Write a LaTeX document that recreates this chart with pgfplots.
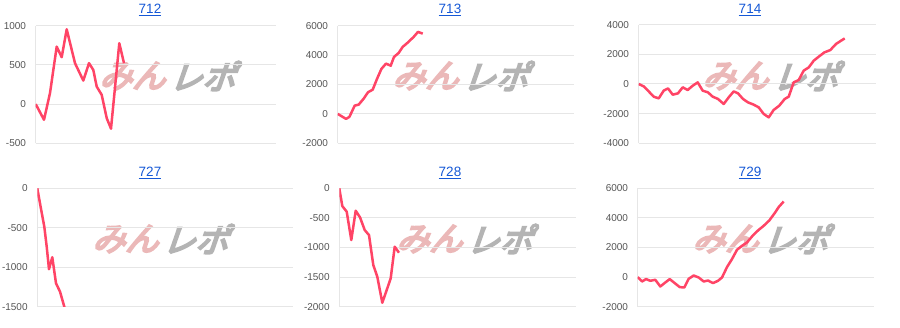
\documentclass[border=0pt]{standalone}
\usepackage{pgfplots}
\pgfplotsset{compat=1.18}
\usepackage{fontspec}
\setmainfont{Liberation Sans}
\newfontfamily\jp{Noto Sans CJK JP}[FakeSlant=0.35,FakeBold=6]
\definecolor{linec}{HTML}{FF4466}
\definecolor{gridc}{HTML}{E6E6E6}
\definecolor{zeroc}{HTML}{BDBDBD}
\definecolor{labc}{HTML}{555555}
\definecolor{linkc}{HTML}{1558D6}
\definecolor{wmpink}{HTML}{EBB8B8}
\definecolor{wmgray}{HTML}{B4B4B4}
\pgfplotsset{
  panel/.style={
    scale only axis, anchor=south west,
    axis x line=none, axis y line*=left,
    y axis line style={draw=gridc, line width=1pt},
    xmin=0, xtick=\empty,
    major tick length=0pt,
    ymajorgrids, major grid style={draw=gridc, line width=1pt},
    extra y ticks={0}, extra y tick labels={},
    extra y tick style={grid style={draw=zeroc, line width=1pt}},
    /pgf/number format/assume math mode=true,
    /pgf/number format/1000 sep={},
    yticklabel style={font=\fontsize{10}{12}\selectfont, text=labc, anchor=east, inner sep=0pt, xshift=-9.5pt},
  },
  ser/.style={color=linec, line width=2.5pt, line join=round, no marks},
}
\newcommand{\wm}[2]{%
  \node[text=wmpink, inner sep=0pt, font=\fontsize{33}{33}\selectfont\jp] at (#1pt+32pt,#2pt) {みん};
  \node[text=wmgray, inner sep=0pt, font=\fontsize{33}{33}\selectfont\jp] at (#1pt+102pt,#2pt) {レポ};
}
\begin{document}
\begin{tikzpicture}
\useasboundingbox (0pt,0pt) rectangle (900pt,328pt);
\wm{100}{252}\wm{393}{252}\wm{703}{252}
\wm{93}{89}\wm{397}{89}\wm{693}{89}
\foreach \t/\x/\y in {712/150/318, 713/450/318, 714/750/318, 727/150/155, 728/450/155, 729/750/155}
  \node[text=linkc, font=\fontsize{13.5}{15}\selectfont] at (\x pt,\y pt) {\underline{\t}};

\begin{axis}[panel, at={(35.7pt,184.7pt)}, width=240.3pt, height=117.6pt,
  xmax=240.3, ymin=-500, ymax=1000, ytick={-500,0,500,1000}]
\addplot[ser] coordinates {(0,0) (8.3,-200) (14.3,140) (21,733) (26,598) (31,954) (39.3,522) (47.6,300) (53.3,522) (57.6,436) (61,224) (66,118) (71,-178) (75.3,-314) (83.6,776) (88.3,522)};
\end{axis}

\begin{axis}[panel, at={(337.7pt,184.7pt)}, width=236.3pt, height=117.6pt,
  xmax=236.3, ymin=-2000, ymax=6000, ytick={-2000,0,2000,4000,6000}]
\addplot[ser] coordinates {(0,0) (8.3,-340) (11.7,-204) (17,564) (21,632) (26,1040) (30.3,1470) (35,1650) (39.3,2380) (43.7,3060) (48.3,3420) (53,3280) (56.3,3875) (61,4150) (65,4560) (69.7,4830) (76,5240) (80.3,5580) (85,5460)};
\end{axis}

\begin{axis}[panel, at={(638.7pt,184.7pt)}, width=237.3pt, height=118.6pt,
  xmax=237.3, ymin=-4000, ymax=4000, ytick={-4000,-2000,0,2000,4000}]
\addplot[ser] coordinates {(0,0) (5,-160) (10,-500) (15,-855) (20,-970) (25,-450) (29.3,-296) (34,-720) (39.3,-630) (44,-225) (49,-405) (54,-115) (59,110) (64,-450) (69.3,-566) (74,-855) (79.3,-1010) (85,-1348) (90,-900) (95,-500) (99.3,-630) (104.3,-1010) (109.3,-1240) (115,-1395) (120,-1577) (125,-2020) (130,-2250) (135,-1750) (140.6,-1460) (146,-1010) (150,-855) (155,110) (160,270) (165,900) (170,1120) (175,1570) (180,1840) (185.6,2130) (191.6,2290) (197.3,2700) (202.3,2920) (206,3075)};
\end{axis}

\begin{axis}[panel, at={(37.3pt,21.3pt)}, width=255.4pt, height=118.4pt,
  xmax=255.4, ymin=-1500, ymax=0, ytick={-1500,-1000,-500,0}]
\addplot[ser] coordinates {(0,0) (3.3,-233) (7,-486) (9.4,-739) (11.7,-1025) (15,-873) (18.7,-1203) (22.7,-1309) (27,-1500) (29.4,-1600)};
\end{axis}

\begin{axis}[panel, at={(339.3pt,21.3pt)}, width=236.7pt, height=118.4pt,
  xmax=236.7, ymin=-2000, ymax=0, ytick={-2000,-1500,-1000,-500,0}]
\addplot[ser] coordinates {(0,0) (3,-300) (7.4,-395) (12,-874) (16.4,-379) (20.7,-490) (25.4,-705) (29.7,-790) (34,-1296) (38,-1494) (43,-1933) (47.4,-1719) (51.4,-1521) (55.4,-987) (59.7,-1088)};
\end{axis}

\begin{axis}[panel, at={(637.7pt,21.3pt)}, width=236.3pt, height=118.4pt,
  xmax=236.3, ymin=-2000, ymax=6000, ytick={-2000,0,2000,4000,6000}]
\addplot[ser] coordinates {(0,0) (4.3,-297) (8.3,-135) (12.6,-250) (17.6,-182) (22.6,-635) (27.6,-365) (32,-135) (37,-406) (42,-676) (46.6,-703) (51,-115) (56,108) (61,-27) (66,-297) (70.3,-230) (75.3,-406) (80.3,-250) (84.3,-27) (89.3,676) (94.3,1217) (99.3,1845) (104.3,2116) (109.3,2339) (114.3,2745) (120.3,3150) (126,3468) (131.6,3826) (137,4326) (141,4732) (146,5110)};
\end{axis}
\end{tikzpicture}
\end{document}
